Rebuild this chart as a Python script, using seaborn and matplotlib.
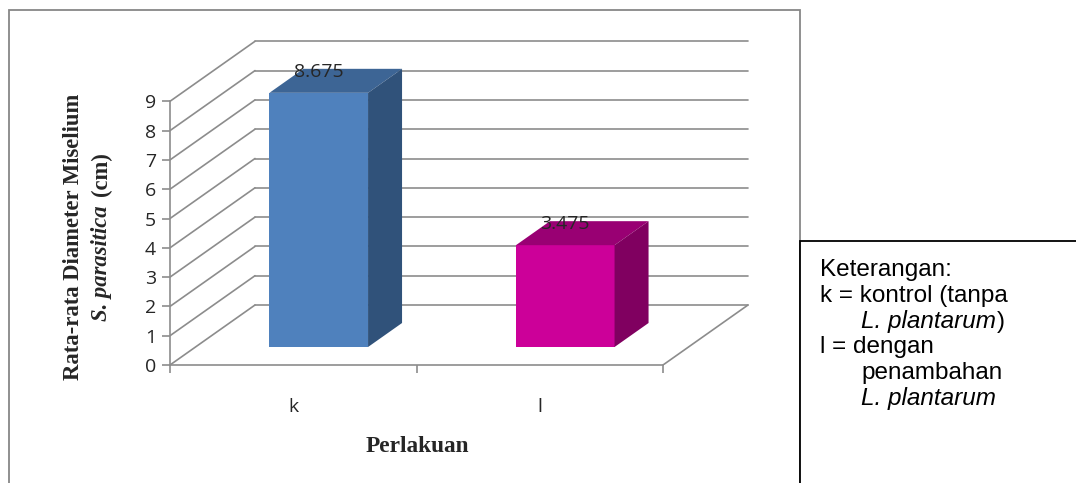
import numpy as np
import seaborn as sns
import matplotlib.pyplot as plt
from matplotlib.patches import Polygon, Rectangle

# data
categories = ['k', 'l']
values = [8.675, 3.475]
value_labels = ['8.675', '3.475']
front_colors = ['#4f81bd', '#cc0099']
top_colors = ['#3d6595', '#990073']
side_colors = ['#30527a', '#800060']
y_ticks = list(range(0, 10))

W, H = 1076, 483
PX_X = 246.5   # pixels per category unit
PX_Y = 29.3    # pixels per value unit
D_X = 85 / PX_X   # depth of the 3d box, in data units
D_Y = 60 / PX_Y
BAR_START, BAR_DEPTH = 0.3, 0.4

sns.set_style('white')
fig = plt.figure(figsize=(W / 100, H / 100), dpi=100)

def fx(px):
    return px / W

def fy(py):
    return 1 - py / H

ax = fig.add_axes([fx(170), fy(365), 600 / W, 340 / H])
grid_c = '#8c8c8c'

sns.barplot(x=categories, y=values, hue=categories, palette=front_colors,
            width=0.4, legend=False, ax=ax, zorder=3, linewidth=0, saturation=1)

# back wall and side wall grid
for v in y_ticks:
    ax.plot([-0.5 + D_X, 1.5 + D_X], [v + D_Y, v + D_Y], color=grid_c, lw=1.2, zorder=1)
    ax.plot([-0.5, -0.5 + D_X], [v, v + D_Y], color=grid_c, lw=1.2, zorder=1)
# floor right edge
ax.plot([1.5, 1.5 + D_X], [0, D_Y], color=grid_c, lw=1.2, zorder=1)

# shift bars into the middle of the box depth and add top / side faces
for i, p in enumerate(ax.patches):
    p.set_x(p.get_x() + BAR_START * D_X)
    p.set_y(BAR_START * D_Y)
    x0, w = p.get_x(), p.get_width()
    y0, h = p.get_y(), values[i]
    p.set_height(h)
    dx, dy = BAR_DEPTH * D_X, BAR_DEPTH * D_Y
    top = [(x0, y0 + h), (x0 + w, y0 + h), (x0 + w + dx, y0 + h + dy), (x0 + dx, y0 + h + dy)]
    side = [(x0 + w, y0), (x0 + w + dx, y0 + dy), (x0 + w + dx, y0 + h + dy), (x0 + w, y0 + h)]
    ax.add_patch(Polygon(top, closed=True, facecolor=top_colors[i], edgecolor='none', zorder=3))
    ax.add_patch(Polygon(side, closed=True, facecolor=side_colors[i], edgecolor='none', zorder=3))
    ax.text(x0 + w / 2, y0 + h + dy - 0.1, value_labels[i], ha='center', va='center',
            fontsize=14, color='#262626', family='Open Sans', zorder=5)

ax.set_xlim(-0.5, -0.5 + 600 / PX_X)
ax.set_ylim(0, 340 / PX_Y)
ax.set_xlabel('')
ax.set_ylabel('')
for s in ['top', 'right']:
    ax.spines[s].set_visible(False)
ax.spines['left'].set_bounds(0, 9)
ax.spines['bottom'].set_bounds(-0.5, 1.5)
for s in ['left', 'bottom']:
    ax.spines[s].set_color(grid_c)
    ax.spines[s].set_linewidth(1.2)

ax.set_yticks(y_ticks)
ax.set_yticklabels([str(t) for t in y_ticks], family='Open Sans', fontsize=14, color='#262626')
ax.tick_params(axis='y', length=6, width=1.2, color=grid_c, pad=4, left=True)
ax.set_xticks([0, 1])
ax.set_xticklabels(categories, family='Open Sans', fontsize=14, color='#262626')
ax.tick_params(axis='x', which='major', length=0, pad=24)
ax.set_xticks([-0.5, 0.5, 1.5], minor=True)
ax.tick_params(axis='x', which='minor', length=6, width=1.2, color=grid_c, bottom=True)

# axis titles
serif = 'Liberation Serif'
fig.text(fx(74), fy(237), 'Rata-rata Diameter Miselium', rotation=90, ha='center', va='center',
         family=serif, fontweight='bold', fontsize=16.3)
renderer = fig.canvas.get_renderer()
sp = fig.text(fx(101), fy(321), 'S. parasitica', rotation=90, ha='center', va='bottom',
              family=serif, fontweight='bold', style='italic', fontsize=16.3)
bb = sp.get_window_extent(renderer)
fig.text(fx(101), (bb.y1 + 9) / H, '(cm)', rotation=90, ha='center', va='bottom',
         family=serif, fontweight='bold', fontsize=16.3)
fig.text(fx(417), fy(446), 'Perlakuan', ha='center', va='center',
         family=serif, fontweight='bold', fontsize=16.8)

# outer chart border
fig.add_artist(Rectangle((fx(9), fy(490)), fx(800) - fx(9), fy(10) - fy(490),
                         transform=fig.transFigure, fill=False, edgecolor='#878787', lw=1.3))

# legend box
fig.add_artist(Rectangle((fx(800), fy(490)), fx(1080) - fx(800), fy(241) - fy(490),
                         transform=fig.transFigure, facecolor='white', edgecolor='black', lw=1.3, zorder=10))
legend_lines = [
    (820, 'Keterangan:', 'normal'),
    (820, 'k = kontrol (tanpa', 'normal'),
    (861, 'L. plantarum', 'italic'),
    (820, 'l = dengan', 'normal'),
    (861, 'penambahan', 'normal'),
    (861, 'L. plantarum', 'italic'),
]
leg_texts = []
for j, (px, txt, st) in enumerate(legend_lines):
    t = fig.text(fx(px), fy(270 + j * 25.8), txt, ha='left', va='center', family='Liberation Sans',
                 fontsize=17.5, style=st, color='black', zorder=11)
    leg_texts.append(t)
bb = leg_texts[2].get_window_extent(renderer)
fig.text((bb.x1 + 1) / W, fy(270 + 2 * 25.8), ')', ha='left', va='center', family='Liberation Sans',
         fontsize=17.5, color='black', zorder=11)

fig.savefig('out.png', dpi=100)
